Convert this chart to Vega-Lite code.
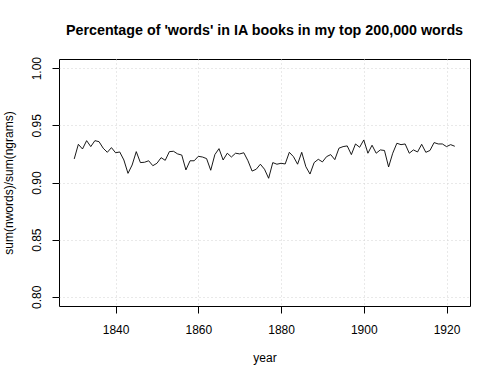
{
  "$schema": "https://vega.github.io/schema/vega-lite/v6.json",
  "width": 411,
  "height": 247,
  "autosize": {"type": "none"},
  "padding": {"left": 59, "top": 59, "right": 30, "bottom": 74},
  "background": "white",
  "config": {
    "font": "Liberation Sans",
    "view": {"stroke": "#000000", "strokeWidth": 1},
    "axis": {
      "domain": false,
      "tickColor": "#000000",
      "tickSize": 7,
      "labelFont": "Liberation Sans",
      "labelFontSize": 12,
      "labelColor": "#000000",
      "titleFont": "Liberation Sans",
      "titleFontSize": 12,
      "titleFontWeight": "normal",
      "titleColor": "#000000",
      "grid": true,
      "gridColor": "#d3d3d3",
      "gridDash": [1, 3],
      "gridWidth": 1
    }
  },
  "title": {
    "text": "Percentage of 'words' in IA books in my top 200,000 words",
    "font": "Liberation Sans",
    "fontSize": 14.3,
    "fontWeight": "bold",
    "color": "#000000",
    "anchor": "middle",
    "offset": 18
  },
  "data": {
    "values": [
      {"year": 1830, "ratio": 0.9206},
      {"year": 1831, "ratio": 0.9334},
      {"year": 1832, "ratio": 0.9293},
      {"year": 1833, "ratio": 0.9366},
      {"year": 1834, "ratio": 0.9314},
      {"year": 1835, "ratio": 0.9366},
      {"year": 1836, "ratio": 0.9357},
      {"year": 1837, "ratio": 0.930},
      {"year": 1838, "ratio": 0.9264},
      {"year": 1839, "ratio": 0.9305},
      {"year": 1840, "ratio": 0.926},
      {"year": 1841, "ratio": 0.9267},
      {"year": 1842, "ratio": 0.9197},
      {"year": 1843, "ratio": 0.908},
      {"year": 1844, "ratio": 0.9153},
      {"year": 1845, "ratio": 0.927},
      {"year": 1846, "ratio": 0.9174},
      {"year": 1847, "ratio": 0.9177},
      {"year": 1848, "ratio": 0.919},
      {"year": 1849, "ratio": 0.9147},
      {"year": 1850, "ratio": 0.9168},
      {"year": 1851, "ratio": 0.9217},
      {"year": 1852, "ratio": 0.9194},
      {"year": 1853, "ratio": 0.927},
      {"year": 1854, "ratio": 0.9273},
      {"year": 1855, "ratio": 0.925},
      {"year": 1856, "ratio": 0.924},
      {"year": 1857, "ratio": 0.911},
      {"year": 1858, "ratio": 0.919},
      {"year": 1859, "ratio": 0.919},
      {"year": 1860, "ratio": 0.9229},
      {"year": 1861, "ratio": 0.9223},
      {"year": 1862, "ratio": 0.9209},
      {"year": 1863, "ratio": 0.9107},
      {"year": 1864, "ratio": 0.9244},
      {"year": 1865, "ratio": 0.9296},
      {"year": 1866, "ratio": 0.9197},
      {"year": 1867, "ratio": 0.9256},
      {"year": 1868, "ratio": 0.9223},
      {"year": 1869, "ratio": 0.9256},
      {"year": 1870, "ratio": 0.925},
      {"year": 1871, "ratio": 0.926},
      {"year": 1872, "ratio": 0.919},
      {"year": 1873, "ratio": 0.910},
      {"year": 1874, "ratio": 0.9116},
      {"year": 1875, "ratio": 0.916},
      {"year": 1876, "ratio": 0.9116},
      {"year": 1877, "ratio": 0.9037},
      {"year": 1878, "ratio": 0.9174},
      {"year": 1879, "ratio": 0.916},
      {"year": 1880, "ratio": 0.9168},
      {"year": 1881, "ratio": 0.9162},
      {"year": 1882, "ratio": 0.9264},
      {"year": 1883, "ratio": 0.9226},
      {"year": 1884, "ratio": 0.916},
      {"year": 1885, "ratio": 0.9264},
      {"year": 1886, "ratio": 0.9138},
      {"year": 1887, "ratio": 0.9074},
      {"year": 1888, "ratio": 0.9174},
      {"year": 1889, "ratio": 0.9203},
      {"year": 1890, "ratio": 0.918},
      {"year": 1891, "ratio": 0.9226},
      {"year": 1892, "ratio": 0.9244},
      {"year": 1893, "ratio": 0.920},
      {"year": 1894, "ratio": 0.930},
      {"year": 1895, "ratio": 0.9314},
      {"year": 1896, "ratio": 0.932},
      {"year": 1897, "ratio": 0.9244},
      {"year": 1898, "ratio": 0.9337},
      {"year": 1899, "ratio": 0.9308},
      {"year": 1900, "ratio": 0.9372},
      {"year": 1901, "ratio": 0.9256},
      {"year": 1902, "ratio": 0.9326},
      {"year": 1903, "ratio": 0.9256},
      {"year": 1904, "ratio": 0.9285},
      {"year": 1905, "ratio": 0.928},
      {"year": 1906, "ratio": 0.9136},
      {"year": 1907, "ratio": 0.9256},
      {"year": 1908, "ratio": 0.9343},
      {"year": 1909, "ratio": 0.9331},
      {"year": 1910, "ratio": 0.9337},
      {"year": 1911, "ratio": 0.9256},
      {"year": 1912, "ratio": 0.9285},
      {"year": 1913, "ratio": 0.9267},
      {"year": 1914, "ratio": 0.9334},
      {"year": 1915, "ratio": 0.9264},
      {"year": 1916, "ratio": 0.928},
      {"year": 1917, "ratio": 0.9349},
      {"year": 1918, "ratio": 0.9337},
      {"year": 1919, "ratio": 0.9337},
      {"year": 1920, "ratio": 0.9314},
      {"year": 1921, "ratio": 0.9331},
      {"year": 1922, "ratio": 0.9317}
    ]
  },
  "mark": {"type": "line", "color": "#000000", "strokeWidth": 0.9, "interpolate": "linear"},
  "encoding": {
    "x": {
      "field": "year",
      "type": "quantitative",
      "scale": {"domain": [1826.32, 1925.68], "nice": false, "zero": false},
      "axis": {
        "title": "year",
        "values": [1840, 1860, 1880, 1900, 1920],
        "format": "d",
        "labelPadding": 11,
        "titlePadding": 17
      }
    },
    "y": {
      "field": "ratio",
      "type": "quantitative",
      "scale": {"domain": [0.792, 1.008], "nice": false, "zero": false},
      "axis": {
        "title": "sum(nwords)/sum(ngrams)",
        "values": [0.8, 0.85, 0.9, 0.95, 1.0],
        "format": ".2f",
        "labelAngle": -90,
        "labelAlign": "center",
        "labelBaseline": "bottom",
        "labelPadding": 9,
        "titlePadding": 15
      }
    }
  }
}
